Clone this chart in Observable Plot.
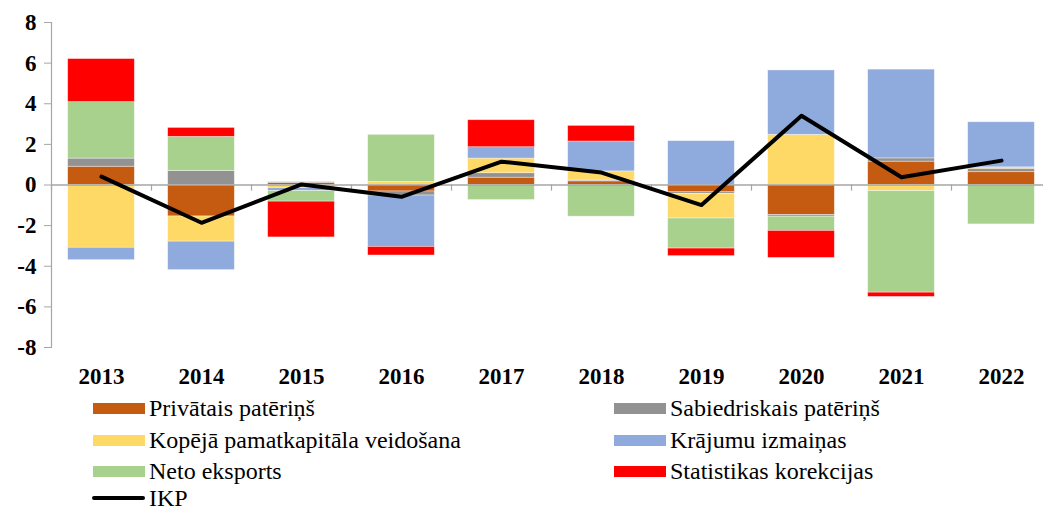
<!DOCTYPE html>
<html>
<head>
<meta charset="utf-8">
<script src="https://cdn.jsdelivr.net/npm/d3@7"></script>
<script src="https://cdn.jsdelivr.net/npm/@observablehq/plot@0.6"></script>
<style>
  html, body { margin: 0; padding: 0; background: #fff; }
  #wrap { position: relative; width: 1043px; height: 510px; overflow: hidden; font-family: "Liberation Serif", "Times New Roman", serif; }
  .item { position: absolute; display: flex; align-items: center; font-size: 24px; line-height: 24px; height: 24px; color: #000; white-space: nowrap; }
  .sw { width: 52px; height: 11px; margin-right: 4px; }
  .ln { width: 53px; height: 4px; background: #000; margin-right: 4px; border-radius: 2px; }
</style>
</head>
<body>
<div id="wrap"><div id="chart"></div><div id="legend"></div></div>
<script>
const years = ["2013","2014","2015","2016","2017","2018","2019","2020","2021","2022"];
const seriesNames = ["Privātais patēriņš","Sabiedriskais patēriņš","Kopējā pamatkapitāla veidošana","Krājumu izmaiņas","Neto eksports","Statistikas korekcijas"];
const seriesColors = ["#C55A11","#929292","#FFD966","#8FAADC","#A9D18E","#FF0000"];
const privatais     = [0.90, -1.55,  0.10, -0.32,  0.36,  0.18, -0.36, -1.48,  1.15,  0.63];
const sabiedriskais = [0.40,  0.69,  0.04, -0.20,  0.22,  0.04, -0.08, -0.08,  0.16,  0.17];
const kopeja        = [-3.09, -1.24, -0.15,  0.15,  0.72,  0.45, -1.21,  2.47, -0.30,  0.07];
const krajumu       = [-0.61, -1.40, -0.15, -2.53,  0.56,  1.47,  2.16,  3.17,  4.37,  2.22];
const neto          = [2.78,  1.68, -0.52,  2.32, -0.74, -1.56, -1.48, -0.70, -5.00, -1.94];
const statistikas   = [2.12,  0.44, -1.76, -0.42,  1.33,  0.77, -0.37, -1.33, -0.21,  0.00];
const ikp           = [0.41, -1.86,  0.03, -0.58,  1.15,  0.61, -0.99,  3.41,  0.38,  1.20];
const yTicks = [-8,-6,-4,-2,0,2,4,6,8];
const lineName = "IKP";

const seriesValues = [privatais, sabiedriskais, kopeja, krajumu, neto, statistikas];
const rows = [];
years.forEach((yr, i) => {
  seriesNames.forEach((s, j) => rows.push({year: yr, series: s, value: seriesValues[j][i]}));
});
const lineRows = years.map((yr, i) => ({year: yr, value: ikp[i]}));

const font = "'Liberation Serif', 'Times New Roman', serif";
const chart = Plot.plot({
  width: 1043,
  height: 395,
  marginLeft: 51,
  marginRight: 0,
  marginTop: 22,
  marginBottom: 48,
  style: {fontFamily: font, background: "white", overflow: "visible"},
  x: {domain: years, range: [51, 1051], paddingInner: 1/3, paddingOuter: 1/6, round: false, label: null},
  y: {domain: [-8, 8], label: null},
  color: {domain: seriesNames, range: seriesColors},
  marks: [
    Plot.barY(rows, {x: "year", y: "value", fill: "series", stroke: "white", strokeOpacity: 0.5, strokeWidth: 0.75}),
    Plot.ruleY([0], {stroke: "#a6a6a6", strokeWidth: 1.5}),
    Plot.ruleX(years, {x: d => d, y1: 0, y2: -0.3, dx: -50, stroke: "#a6a6a6", strokeWidth: 1.2}),
    Plot.frame({anchor: "left", stroke: "#a6a6a6", strokeWidth: 1.2}),
    Plot.axisY({ticks: yTicks, tickFormat: d => String(d), tickSize: 7, tickPadding: 8, stroke: "#a6a6a6", fontSize: 23, fontWeight: "bold", fill: "#000"}),
    Plot.axisX({tickSize: 0, tickPadding: 20, fontSize: 23, fontWeight: "bold", fill: "#000"}),
    Plot.line(lineRows, {x: "year", y: "value", stroke: "#000", strokeWidth: 4, strokeLinejoin: "round"})
  ]
});
document.getElementById("chart").appendChild(chart);

// Legend
const legend = document.getElementById("legend");
const colX = [93, 614];
const rowY = [396, 428, 459];
seriesNames.forEach((s, j) => {
  const d = document.createElement("div");
  d.className = "item";
  d.style.left = colX[j % 2] + "px";
  d.style.top = rowY[Math.floor(j / 2)] + "px";
  d.innerHTML = `<span class="sw" style="background:${seriesColors[j]}"></span><span>${s}</span>`;
  legend.appendChild(d);
});
const li = document.createElement("div");
li.className = "item";
li.style.left = "92px";
li.style.top = "486px";
li.innerHTML = `<span class="ln"></span><span>${lineName}</span>`;
legend.appendChild(li);
</script>
</body>
</html>
